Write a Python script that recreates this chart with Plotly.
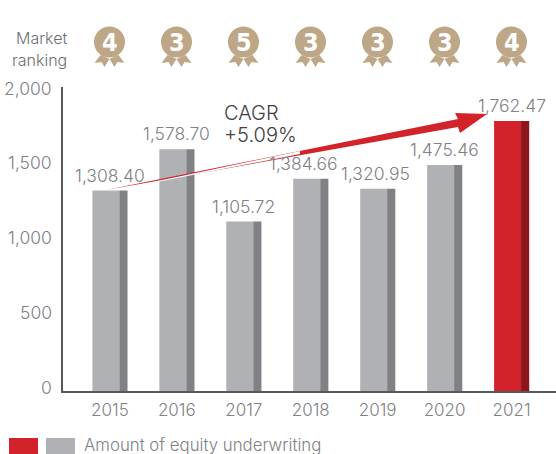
import plotly.graph_objects as go

years = ["2015", "2016", "2017", "2018", "2019", "2020", "2021"]
amounts = [1308.40, 1578.70, 1105.72, 1384.66, 1320.95, 1475.46, 1762.47]
labels = ["1,308.40", "1,578.70", "1,105.72", "1,384.66", "1,320.95", "1,475.46", "1,762.47"]
rankings = ["4", "3", "5", "3", "3", "3", "4"]
axis_ticks = [0, 500, 1000, 1500, 2000]
axis_labels = ["0", "500", "1,000", "1,500", "2,000"]
highlight_year = "2021"

W, H = 556, 454
L, R, T, B = 63, 0, 87, 63
PH = H - T - B
PW = W - L - R
GREY = "#808184"
FONT = "Inter"
LABEL_NUDGE = {"2018": -7, "2019": -2}


def px(x):
    return (x - L) / PW


def py(y):
    return (H - B - y) / PH


def text(t, x, y, size, color=GREY, xanchor="left"):
    return dict(text=t, xref="paper", yref="paper", x=px(x), y=py(y), xanchor=xanchor, yanchor="middle",
                showarrow=False, font=dict(family=FONT, size=size, color=color, weight=300))


front = ["#D2232A" if y == highlight_year else "#B0B1B5" for y in years]
side = ["#8C161C" if y == highlight_year else "#808184" for y in years]

fig = go.Figure()
fig.add_bar(x=years, y=amounts, width=0.403, offset=-0.261, marker=dict(color=front, line_width=0), showlegend=False)
fig.add_bar(x=years, y=amounts, width=0.122, offset=0.142, marker=dict(color=side, line_width=0), showlegend=False)

shapes = []
ann = []
shapes.append(dict(type="path", xref="paper", yref="paper", layer="above",
                   path="M {} {} L {} {} L {} {} L {} {} L {} {} L {} {} Z".format(
                       px(106), py(190), px(458), py(119), px(455), py(113), px(487), py(114),
                       px(460), py(133), px(458), py(127)),
                   fillcolor="#D2232A", line=dict(width=0)))
shapes.append(dict(type="path", xref="paper", yref="paper", layer="above",
                   path="M {} {} L {} {} L {} {} Z".format(px(106), py(192), px(300), py(151), px(300), py(154)),
                   fillcolor="#FFFFFF", line=dict(width=0)))

for i, rank in enumerate(rankings):
    cx = 109.5 + 67 * i
    common = dict(xref="paper", yref="paper", fillcolor="#BDA787", line=dict(width=0), layer="above")
    shapes.append(dict(type="circle", x0=px(cx - 15.5), x1=px(cx + 15.5), y0=py(26.5), y1=py(57.5), **common))
    for s in (-1, 1):
        pts = [(9, 55), (15, 63), (8, 62), (5, 67), (0, 59)]
        d = "M " + " L ".join(f"{px(cx + s * a)} {py(b)}" for a, b in pts) + " Z"
        shapes.append(dict(type="path", path=d, **common))
    ann.append(dict(text=f"<b>{rank}</b>", x=i, xref="x", y=py(42), yref="paper", showarrow=False,
                    xanchor="center", yanchor="middle",
                    font=dict(family="DejaVu Sans Condensed", size=25, color="#FFFFFF")))
    ann.append(dict(text=labels[i], x=i, xref="x", y=amounts[i], yref="y", showarrow=False, xanchor="center",
                    yanchor="bottom", yshift=3, xshift=LABEL_NUDGE.get(years[i], 0),
                    font=dict(family=FONT, size=17.5, color=GREY, weight=300)))

shapes.append(dict(type="rect", xref="paper", yref="paper", x0=px(9), x1=px(38), y0=py(438), y1=py(454),
                   fillcolor="#D2232A", line=dict(width=0)))
shapes.append(dict(type="rect", xref="paper", yref="paper", x0=px(46), x1=px(75), y0=py(438), y1=py(454),
                   fillcolor="#B0B1B5", line=dict(width=0)))
ann.append(text("Amount of equity underwriting", 81.5, 445, 16.8))
ann.append(text("Market", 69, 38, 16, "#6D6E71", "right"))
ann.append(text("ranking", 69, 60, 16, "#6D6E71", "right"))
ann.append(text("CAGR", 221.5, 113, 20, "#414042"))
ann.append(text("+5.09%", 221.5, 135, 20, "#414042"))
for v, t in zip(axis_ticks, axis_labels):
    ann.append(text(t, 54, 387 - v * 299 / 2000, 17.5, GREY, "right"))

fig.update_layout(
    width=W, height=H, autosize=False, margin=dict(l=L, r=R, t=T, b=B),
    paper_bgcolor="white", plot_bgcolor="white", barmode="overlay", showlegend=False,
    shapes=shapes, annotations=ann,
    xaxis=dict(type="category", categoryorder="array", categoryarray=years, range=[-0.70, 6.664],
               showgrid=False, zeroline=False, showline=True, linecolor="#58595B", linewidth=2, ticks="",
               tickfont=dict(family=FONT, size=17, color=GREY, weight=300), ticklabelstandoff=3),
    yaxis=dict(range=[0, 304 / 0.1532], showgrid=False, zeroline=False, showline=True, linecolor="#58595B",
               linewidth=2, ticks="", showticklabels=False),
)
fig.write_html("out.html", config={"displayModeBar": False}, post_script="document.body.style.margin='0';")
